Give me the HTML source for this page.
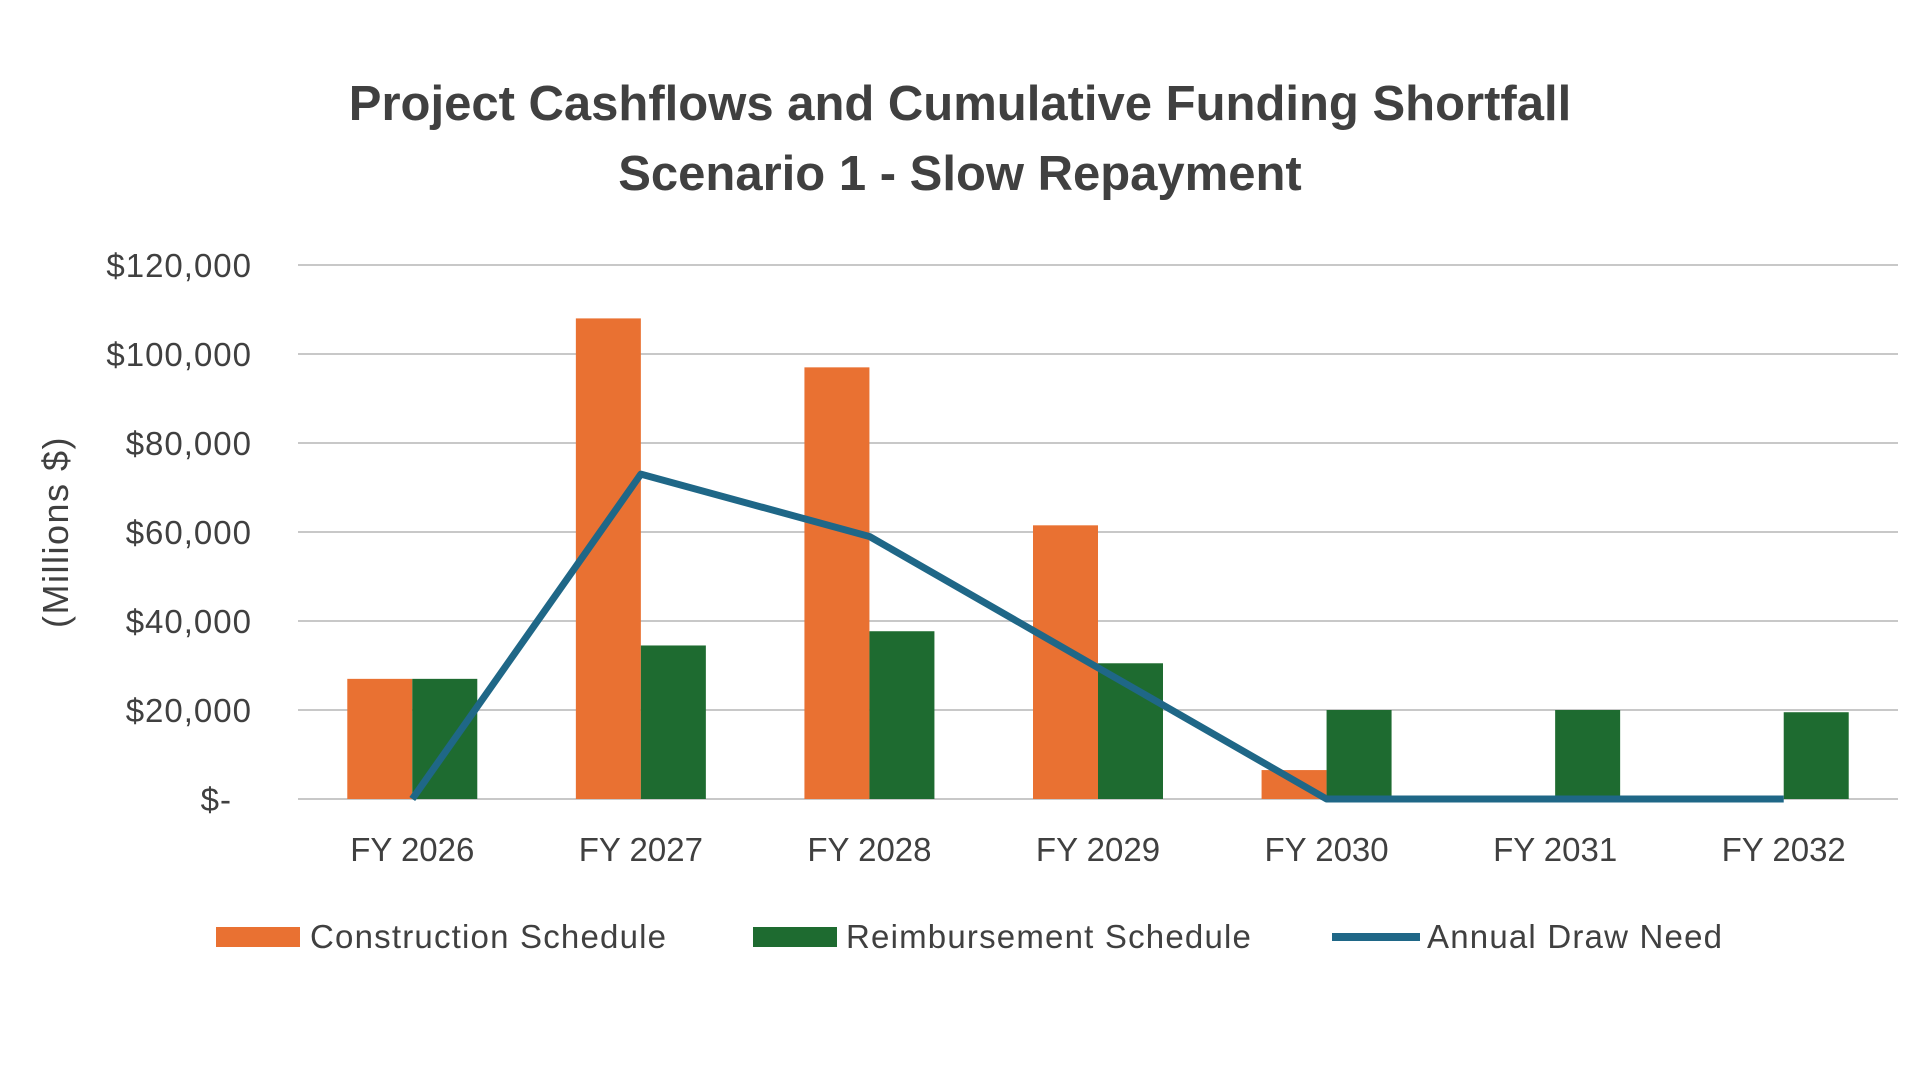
<!DOCTYPE html>
<html><head><meta charset="utf-8"><style>
html,body{margin:0;padding:0;background:#fff;}
svg{display:block;font-family:"Liberation Sans",sans-serif;}
</style></head><body>
<svg id="chart" width="1920" height="1080" viewBox="0 0 1920 1080" xmlns="http://www.w3.org/2000/svg">
<text x="960" y="120" text-anchor="middle" font-size="49" font-weight="bold" fill="#404040">Project Cashflows and Cumulative Funding Shortfall</text>
<text x="960" y="190" text-anchor="middle" font-size="49" font-weight="bold" fill="#404040">Scenario 1 - Slow Repayment</text>
<text transform="translate(68,532) rotate(-90)" text-anchor="middle" font-size="36" letter-spacing="1.5" fill="#404040">(Millions $)</text>
<g id="grid"></g>
<g id="yticks"></g>
<g id="bars"></g>
<g id="line"></g>
<g id="xticks"></g>
<g>
<rect x="216" y="927" width="84" height="20" fill="#e97132"/>
<text x="310" y="948" font-size="33" letter-spacing="1.2" fill="#404040">Construction Schedule</text>
<rect x="753" y="927" width="84" height="20" fill="#1e6b30"/>
<text x="846" y="948" font-size="33" letter-spacing="1.2" fill="#404040">Reimbursement Schedule</text>
<rect x="1332" y="933" width="88" height="8" fill="#1f6787"/>
<text x="1427" y="948" font-size="33" letter-spacing="1.2" fill="#404040">Annual Draw Need</text>
</g>
</svg>
<script>
const categories = ["FY 2026","FY 2027","FY 2028","FY 2029","FY 2030","FY 2031","FY 2032"];
const construction = [27000,108000,97000,61500,6500,500,0];
const reimbursement = [27000,34500,37700,30500,20000,20000,19500];
const drawNeed = [0,73000,59000,29500,0,0,0];
const yTicks = [0,20000,40000,60000,80000,100000,120000];
const yTickLabels = ["$-","$20,000","$40,000","$60,000","$80,000","$100,000","$120,000"];

const NS="http://www.w3.org/2000/svg";
const x0=298,x1=1898,yTop=265,yBot=799,yMax=120000;
const band=(x1-x0)/categories.length;
const bw=65;
function y(v){return yBot-(v/yMax)*(yBot-yTop);}
function xc(i){return x0+band*(i+0.5);}
function mk(t,a,p){const e=document.createElementNS(NS,t);for(const k in a)e.setAttribute(k,a[k]);p.appendChild(e);return e;}
const grid=document.getElementById('grid'),yt=document.getElementById('yticks');
yTicks.forEach((v,i)=>{
  const l=mk('line',{x1:x0,x2:x1,y1:y(v),y2:y(v),stroke:'#c8c8c8','stroke-width':2},grid);
  
  
  const t=mk('text',{x:i==0?232:252,y:y(v)+12,'text-anchor':'end','font-size':33,'letter-spacing':1,fill:'#404040'},yt);
  t.textContent=yTickLabels[i];
  
  
});
const bars=document.getElementById('bars'),xt=document.getElementById('xticks');
categories.forEach((c,i)=>{
  const a=construction[i],b=reimbursement[i];
  const r1=mk('rect',{x:xc(i)-bw,y:y(a),width:bw,height:yBot-y(a),fill:'#e97132'},bars);
  
  
  const r2=mk('rect',{x:xc(i),y:y(b),width:bw,height:yBot-y(b),fill:'#1e6b30'},bars);
  
  
  const t=mk('text',{x:xc(i),y:861,'text-anchor':'middle','font-size':33,fill:'#404040'},xt);
  t.textContent=c;
  
  
});
const pts=drawNeed.map((v,i)=>xc(i)+','+y(v)).join(' ');
const pl=mk('polyline',{points:pts,fill:'none',stroke:'#1f6787','stroke-width':7,'stroke-linejoin':'round'},document.getElementById('line'));


</script>
</body></html>
